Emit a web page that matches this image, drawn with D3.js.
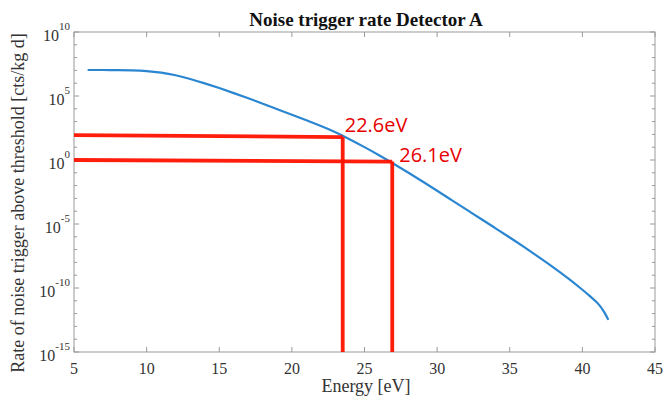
<!DOCTYPE html>
<html><head><meta charset="utf-8">
<script src="https://cdn.jsdelivr.net/npm/d3@7"></script>
<style>body{margin:0;background:#fff}svg{display:block}</style>
</head><body>
<svg id="c" width="665" height="402"></svg>
<script>
// ---- data ----
const energy = [6, 7, 8, 9, 10, 11, 12, 13, 14, 15, 16, 17, 18, 19, 20, 21, 22, 23, 24, 25, 26, 27, 28, 29, 30,
                31, 32, 33, 34, 35, 36, 37, 38, 39, 40, 40.5, 41, 41.21, 41.4, 41.6, 41.76];
const rate   = [1.07e7, 1.07e7, 1.07e7, 1.02e7, 9.1e6, 6.9e6, 4.3e6, 2.2e6, 9.8e5, 4.2e5, 1.7e5, 6.6e4, 2.5e4, 9.3e3,
                3.5e3, 1.26e3, 4.5e2, 1.51e2, 4.1e1, 1.02e1, 2.4, 5.2e-1, 1.07e-1, 2.1e-2, 4.0e-3,
                7.4e-4, 1.38e-4, 2.6e-5, 4.8e-6, 8.9e-7, 1.58e-7, 2.6e-8, 4.2e-9, 6.0e-10, 7.4e-11, 2.5e-11,
                7.6e-12, 4.0e-12, 2.0e-12, 8.7e-13, 3.8e-13];
const thrEnergy = [23.50, 26.91];
const thrRateLeft = [89, 1.0];
const thrRateRight = [62, 0.76];
const thrLabels = ["22.6eV", "26.1eV"];
const xTicks = [5, 10, 15, 20, 25, 30, 35, 40, 45];
const yMajorExp = [10, 5, 0, -5, -10, -15];
const yMinorExp = d3.range(-15, 11);
const title = "Noise trigger rate Detector A";
const xLabel = "Energy [eV]";
const yLabel = "Rate of noise trigger above threshold [cts/kg d]";

// ---- layout ----
const svg = d3.select("#c");
const L = 74, R = 655, T = 32, B = 352;
const x = d3.scaleLinear().domain([5, 45]).range([L, R]);
const y = d3.scaleLog().domain([1e-15, 1e10]).range([B, T]);
const serif = "'Liberation Serif','Times New Roman',serif";
const grey = "#9a9a9a";

// box
svg.append("rect").attr("x", L).attr("y", T).attr("width", R - L).attr("height", B - T)
  .attr("fill", "none").attr("stroke", grey).attr("stroke-width", 1);

// x ticks (inward, top & bottom)
const gx = svg.append("g");
xTicks.forEach(v => {
  gx.append("line").attr("x1", x(v)).attr("x2", x(v)).attr("y1", B).attr("y2", B - 5).attr("stroke", grey);
  gx.append("line").attr("x1", x(v)).attr("x2", x(v)).attr("y1", T).attr("y2", T + 5).attr("stroke", grey);
  gx.append("text").attr("x", x(v)).attr("y", B + 22).attr("text-anchor", "middle")
    .attr("font-family", serif).attr("font-size", 16).attr("fill", "#333").text(v);
});
// y ticks
const gy = svg.append("g");
yMinorExp.forEach(e => {
  const yy = y(Math.pow(10, e));
  const len = yMajorExp.includes(e) ? 5 : 3;
  gy.append("line").attr("x1", L).attr("x2", L + len).attr("y1", yy).attr("y2", yy).attr("stroke", grey);
  gy.append("line").attr("x1", R).attr("x2", R - len).attr("y1", yy).attr("y2", yy).attr("stroke", grey);
});
yMajorExp.forEach(e => {
  const yy = y(Math.pow(10, e));
  const t = gy.append("text").attr("x", 70).attr("y", yy + 9).attr("text-anchor", "end")
    .attr("font-family", serif).attr("font-size", 16).attr("fill", "#333");
  t.append("tspan").text("10");
  t.append("tspan").attr("dy", -11).attr("font-size", 11).text(e);
});

// curve
const pts = energy.map((e, i) => [e, rate[i]]);
svg.append("path").datum(pts)
  .attr("d", d3.line().x(d => x(d[0])).y(d => y(d[1])).curve(d3.curveBasis))
  .attr("fill", "none").attr("stroke", "#2b86d1").attr("stroke-width", 2.2)
  .attr("stroke-linecap", "round");

// threshold lines
const red = "#ff1100";
thrEnergy.forEach((e, i) => {
  svg.append("line").attr("x1", x(5)).attr("x2", x(e)).attr("y1", y(thrRateLeft[i])).attr("y2", y(thrRateRight[i]))
    .attr("stroke", red).attr("stroke-width", 3.8).attr("opacity", 0.95);
  svg.append("line").attr("x1", x(e)).attr("x2", x(e)).attr("y1", y(thrRateRight[i])).attr("y2", y(1e-15))
    .attr("stroke", red).attr("stroke-width", 3.8).attr("opacity", 0.95);
  svg.append("text").attr("x", x(e) + 2 + (i ? 5 : 0)).attr("y", y(thrRateRight[i]) - (i ? 0 : 5))
    .attr("font-family", "'Open Sans','Liberation Sans',sans-serif").attr("font-size", 20)
    .attr("fill", "#e60000").text(thrLabels[i]);
});

// title and labels
svg.append("text").attr("x", 366).attr("y", 26).attr("text-anchor", "middle")
  .attr("font-family", serif).attr("font-weight", "bold").attr("font-size", 19).attr("fill", "#111").text(title);
svg.append("text").attr("x", 366).attr("y", 392).attr("text-anchor", "middle")
  .attr("font-family", serif).attr("font-size", 18).attr("fill", "#333").text(xLabel);
svg.append("text").attr("transform", "translate(24,203) rotate(-90)").attr("text-anchor", "middle")
  .attr("font-family", serif).attr("font-size", 18).attr("fill", "#333").text(yLabel);
</script>
</body></html>
